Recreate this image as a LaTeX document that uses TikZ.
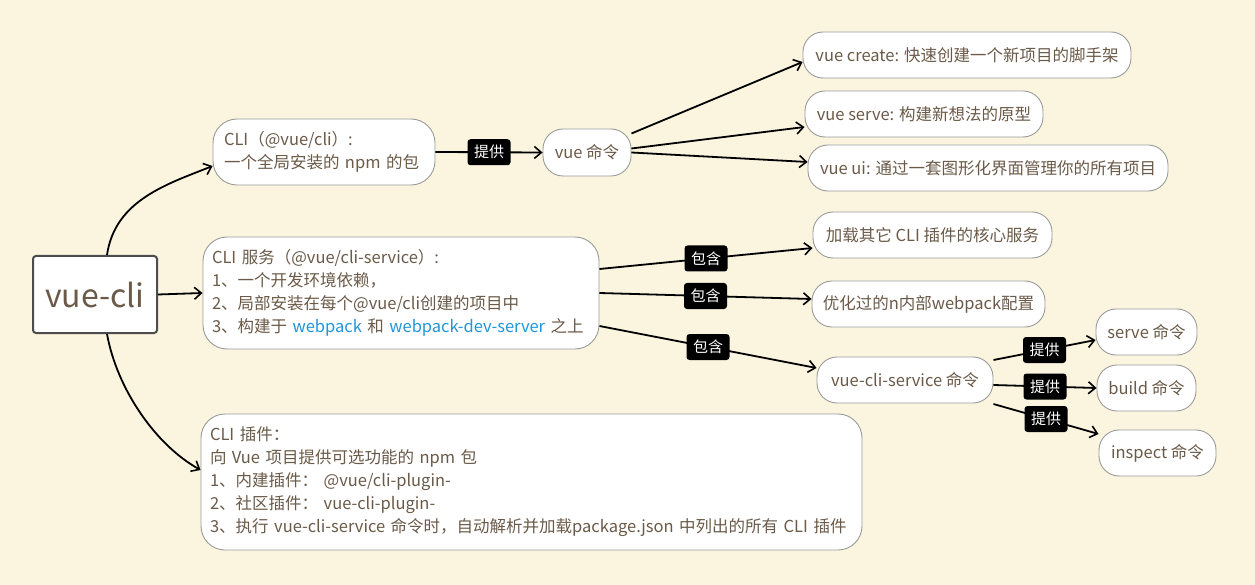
\documentclass[tikz,border=0pt]{standalone}
\usepackage{fontspec}
\setmainfont{Noto Sans CJK SC}
\usetikzlibrary{arrows.meta,calc}
\definecolor{bg}{HTML}{FBF5DF}
\definecolor{txt}{HTML}{6B5A48}
\definecolor{bd}{HTML}{9A9A9A}
\definecolor{lnk}{HTML}{2196D9}
\newcommand{\nfs}{\fontsize{16.5}{23}\selectfont}
\newcommand{\bfs}{\fontsize{16.5}{23}\selectfont}
\newcommand{\lfs}{\fontsize{15}{17}\selectfont}
\tikzset{
  pill/.style={draw=bd, fill=white, rounded corners=20pt, line width=0.9pt,
    minimum height=46pt, inner sep=0pt, font=\nfs, text=txt},
  bigbox/.style={draw=bd, fill=white, rounded corners=24pt, line width=0.9pt,
    align=left, inner sep=0pt, font=\bfs, text=txt},
  lbl/.style={fill=black, text=white, rounded corners=3pt, font=\lfs,
    minimum width=43pt, minimum height=26pt, inner sep=0pt},
  arr/.style={-{Straight Barb[length=7pt,width=12pt,line width=1.6pt]},
    line width=1.8pt, black},
}
\begin{document}
\begin{tikzpicture}[x=1pt,y=-1pt]
\fill[bg] (0,0) rectangle (1255,585);
\useasboundingbox (0,0) rectangle (1255,585);

% root
\node[draw=black!70, line width=2pt, fill=white, rounded corners=3pt,
  minimum width=124pt, minimum height=77pt, inner sep=0pt,
  font=\fontsize{32}{36}\selectfont, text=txt] (root) at (95,294.5) {vue-cli};

% first level
\node[bigbox, minimum width=222pt, minimum height=66pt, text width=200pt] (cli) at (324,152)
  {CLI（@vue/cli）:\\一个全局安装的 npm 的包};
\node[bigbox, minimum width=396pt, minimum height=112pt, text width=378pt] (svc) at (401,293)
  {CLI 服务（@vue/cli-service）:\\1、一个开发环境依赖，\\2、局部安装在每个@vue/cli创建的项目中\\3、构建于 \textcolor{lnk}{webpack} 和 \textcolor{lnk}{webpack-dev-server} 之上};
\node[bigbox, minimum width=661pt, minimum height=136pt, text width=643pt] (plg) at (531.5,482)
  {CLI 插件：\\向 Vue 项目提供可选功能的 npm 包\\1、内建插件： @vue/cli-plugin-\\2、社区插件： vue-cli-plugin-\\3、执行 vue-cli-service 命令时，自动解析并加载package.json 中列出的所有 CLI 插件};

% second level
\node[pill, minimum width=88pt, minimum height=47pt] (vuecmd) at (587,152.5) {vue 命令};
\node[pill, minimum width=328pt] (create) at (967,55) {vue create: 快速创建一个新项目的脚手架};
\node[pill, minimum width=238pt] (serve) at (924,114) {vue serve: 构建新想法的原型};
\node[pill, minimum width=360pt] (ui) at (988,168) {vue ui: 通过一套图形化界面管理你的所有项目};

\node[pill, minimum width=239pt] (load) at (932.5,235) {加载其它 CLI 插件的核心服务};
\node[pill, minimum width=233pt] (opt) at (928.5,304) {优化过的n内部webpack配置};
\node[pill, minimum width=176pt] (vcs) at (905,380) {vue-cli-service 命令};

\node[pill, minimum width=101pt] (srv) at (1146.5,332) {serve 命令};
\node[pill, minimum width=99pt] (build) at (1146.5,388) {build 命令};
\node[pill, minimum width=117pt] (insp) at (1157.5,453) {inspect 命令};

% connectors from root
\draw[arr] ([xshift=12pt]root.north) .. controls +(8,-55) and +(-45,18) .. ([yshift=-14pt]cli.west);
\draw[arr] (root.east) -- (svc.west);
\draw[arr] ([xshift=12pt]root.south) .. controls +(10,55) and +(-45,-25) .. ([yshift=12pt]plg.west);

% cli -> vue cmd
\draw[arr] (cli.east) -- node[lbl] (l1) {提供} (vuecmd.west);
\draw[arr] ([yshift=19pt]vuecmd.east) -- ([yshift=-7pt]create.west);
\draw[arr] ([yshift=4pt]vuecmd.east) -- ([yshift=-13pt]serve.west);
\draw[arr] ([yshift=0pt]vuecmd.east) -- ([yshift=6pt]ui.west);

% service
\draw[arr] ([yshift=24pt]svc.east) -- node[lbl] (l2) {包含} ([yshift=-13pt]load.west);
\draw[arr] (svc.east) -- node[lbl] (l3) {包含} ([yshift=5pt]opt.west);
\draw[arr] ([yshift=-33pt]svc.east) -- node[lbl] (l4) {包含} ([yshift=12pt]vcs.west);

% vue-cli-service commands
\draw[arr] ([yshift=20pt]vcs.east) -- node[lbl] (l5) {提供} ([yshift=-8pt]srv.west);
\draw[arr] ([yshift=-5pt]vcs.east) -- node[lbl] (l6) {提供} (build.west);
\draw[arr] ([yshift=-24pt]vcs.east) -- node[lbl] (l7) {提供} ([yshift=19pt]insp.west);
\end{tikzpicture}
\end{document}
